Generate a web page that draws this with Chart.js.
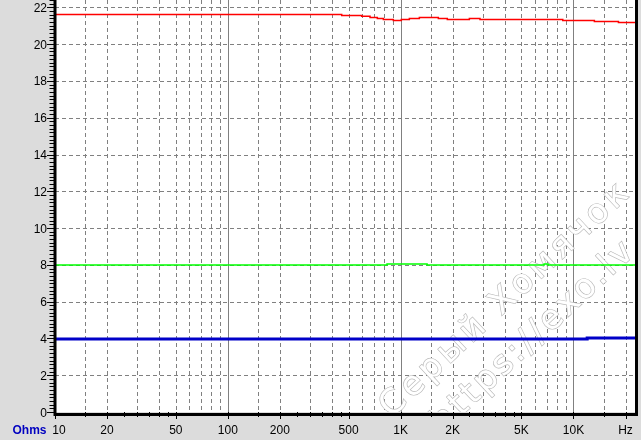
<!DOCTYPE html>
<html>
<head>
<meta charset="utf-8">
<script src="https://cdn.jsdelivr.net/npm/chart.js@4.4.1/dist/chart.umd.min.js"></script>
<style>
  html, body { margin: 0; padding: 0; background: #dcdcdc; }
</style>
</head>
<body>
<canvas id="impChart" width="641" height="440"></canvas>
<script>
// impedance curves (Hz / Ohms), each value holds until the next point
const redFreq = [10, 456, 595, 665, 733, 794, 907, 1009, 1123, 1283, 1652, 1862, 2498, 2878, 8670, 13210, 18200, 23000];
const redOhms = [21.61, 21.56, 21.51, 21.45, 21.40, 21.34, 21.29, 21.34, 21.40, 21.45, 21.40, 21.34, 21.40, 21.34, 21.29, 21.23, 21.18, 21.18];
const greenFreq = [10, 834, 1422, 6760, 7130, 23000];
const greenOhms = [7.99, 8.05, 7.99, 8.05, 7.99, 7.99];
const blueFreq = [10, 12000, 23000];
const blueOhms = [3.97, 4.02, 4.02];

const yTicks = [0, 2, 4, 6, 8, 10, 12, 14, 16, 18, 20, 22];
const xTickValues = [10, 20, 50, 100, 200, 500, 1000, 2000, 5000, 10000, 20000];
const xTickLabels = ["10", "20", "50", "100", "200", "500", "1K", "2K", "5K", "10K", "Hz"];
const decades = [10, 100, 1000, 10000];
const gridSteps = [1, 1.5, 2, 3, 4, 5, 6, 7, 8, 9];
const tickSteps = [1, 1.5, 2, 2.5, 3, 3.5, 4, 4.5, 5];

const toPoints = (xs, ys) => xs.map((x, i) => ({ x, y: ys[i] }));

function drawMark(ctx, text, cx, cy, target) {
  ctx.save();
  ctx.translate(cx, cy);
  ctx.rotate(-43 * Math.PI / 180);
  const w = ctx.measureText(text).width;
  ctx.letterSpacing = Math.max(0, (target - w) / text.length) + "px";
  ctx.strokeText(text, 0, 0);
  ctx.fillText(text, 0, 0);
  ctx.restore();
}

const framePlugin = {
  id: "frame",
  beforeDraw(chart) {
    const { ctx, chartArea: a, width, height } = chart;
    ctx.save();
    ctx.fillStyle = "#dcdcdc";
    ctx.fillRect(0, 0, width, height);
    ctx.fillStyle = "#ffffff";
    ctx.fillRect(a.left, a.top, a.right - a.left, a.bottom - a.top);
    ctx.restore();
  },
  beforeDatasetsDraw(chart) {
    const { ctx, chartArea: a } = chart;
    const xs = chart.scales.x, ys = chart.scales.y;
    ctx.save();
    ctx.strokeStyle = "#808080";
    ctx.lineWidth = 1;
    // vertical grid
    decades.forEach(d => {
      gridSteps.forEach(s => {
        const v = d * s;
        if (v <= 10 || v > xs.max) return;
        const px = Math.round(xs.getPixelForValue(v)) + 0.5;
        ctx.setLineDash(s === 1 ? [] : [4, 3]);
        ctx.beginPath();
        ctx.moveTo(px, a.top);
        ctx.lineTo(px, a.bottom);
        ctx.stroke();
      });
    });
    // horizontal grid
    ctx.setLineDash([4, 3]);
    yTicks.forEach(v => {
      if (v === 0) return;
      const py = Math.round(ys.getPixelForValue(v)) + 0.5;
      ctx.beginPath();
      ctx.moveTo(a.left, py);
      ctx.lineTo(a.right, py);
      ctx.stroke();
    });
    ctx.setLineDash([]);

    // watermark
    ctx.beginPath();
    ctx.rect(a.left, a.top, a.right - a.left, a.bottom - a.top);
    ctx.clip();
    ctx.font = '34px "DejaVu Sans"';
    ctx.textAlign = "center";
    ctx.textBaseline = "alphabetic";
    ctx.lineWidth = 1.3;
    ctx.strokeStyle = "#b8b8b8";
    ctx.fillStyle = "#ffffff";
    drawMark(ctx, "Серый Хомячок", 512, 306, 330);
    drawMark(ctx, "https://exo.lv", 540, 343, 266);
    ctx.restore();
  },
  afterDatasetsDraw(chart) {
    const { ctx, chartArea: a } = chart;
    const xs = chart.scales.x, ys = chart.scales.y;
    ctx.save();
    ctx.strokeStyle = "#000000";

    // y tick marks
    ctx.lineWidth = 1;
    for (let i = 0; i <= 112; i++) {
      const v = i * 0.2;
      const py = Math.round(ys.getPixelForValue(v)) + 0.5;
      ctx.beginPath();
      ctx.moveTo(i % 10 === 0 ? 47 : 49.5, py);
      ctx.lineTo(a.left, py);
      ctx.stroke();
    }
    // x tick marks
    decades.forEach(d => {
      tickSteps.forEach(s => {
        const v = d * s;
        if (v > xs.max) return;
        const px = Math.round(xs.getPixelForValue(v)) + 0.5;
        const long = xTickValues.includes(v);
        ctx.beginPath();
        ctx.moveTo(px, a.bottom);
        ctx.lineTo(px, a.bottom + (long ? 7 : 5));
        ctx.stroke();
      });
    });

    // axes and right border
    ctx.lineWidth = 3;
    ctx.beginPath();
    ctx.moveTo(a.left, 0);
    ctx.lineTo(a.left, a.bottom + 2.5);
    ctx.lineTo(a.right + 0.5, a.bottom + 2.5);
    ctx.lineTo(a.right + 0.5, 0);
    ctx.stroke();

    // labels
    ctx.fillStyle = "#000000";
    ctx.font = '12px "Liberation Sans", Arial, sans-serif';
    ctx.textBaseline = "alphabetic";
    ctx.textAlign = "right";
    yTicks.forEach(v => {
      ctx.fillText(String(v), 47, ys.getPixelForValue(v) + 4.5);
    });
    ctx.textAlign = "center";
    xTickValues.forEach((v, i) => {
      let px = xs.getPixelForValue(v);
      if (i === 0) px += 4;
      ctx.fillText(xTickLabels[i], px, 434);
    });
    ctx.fillStyle = "#0000c0";
    ctx.font = 'bold 12px "Liberation Sans", Arial, sans-serif';
    ctx.fillText("Ohms", 29.5, 434);
    ctx.restore();
  }
};

const ctx = document.getElementById("impChart").getContext("2d");
new Chart(ctx, {
  type: "line",
  data: {
    datasets: [
      {
        data: toPoints(greenFreq, greenOhms),
        borderColor: "#00ff00",
        borderWidth: 1.5,
        stepped: "before"
      },
      {
        data: toPoints(blueFreq, blueOhms),
        borderColor: "#0000c8",
        borderWidth: 3,
        stepped: "before"
      },
      {
        data: toPoints(redFreq, redOhms),
        borderColor: "#ff0000",
        borderWidth: 1.5,
        stepped: "before"
      }
    ]
  },
  options: {
    animation: false,
    responsive: false,
    devicePixelRatio: 1,
    layout: { padding: { top: 0, right: 5, bottom: 0, left: 0 } },
    plugins: { legend: { display: false }, tooltip: { enabled: false } },
    elements: { point: { radius: 0 } },
    scales: {
      x: {
        type: "logarithmic",
        min: 10,
        max: 23000,
        ticks: { display: false },
        grid: { display: false, drawTicks: false },
        border: { display: false },
        afterFit(s) { s.height = 28; }
      },
      y: {
        type: "linear",
        min: 0,
        max: 22.4,
        ticks: { display: false },
        grid: { display: false, drawTicks: false },
        border: { display: false },
        afterFit(s) { s.width = 55; }
      }
    }
  },
  plugins: [framePlugin]
});
</script>
</body>
</html>
